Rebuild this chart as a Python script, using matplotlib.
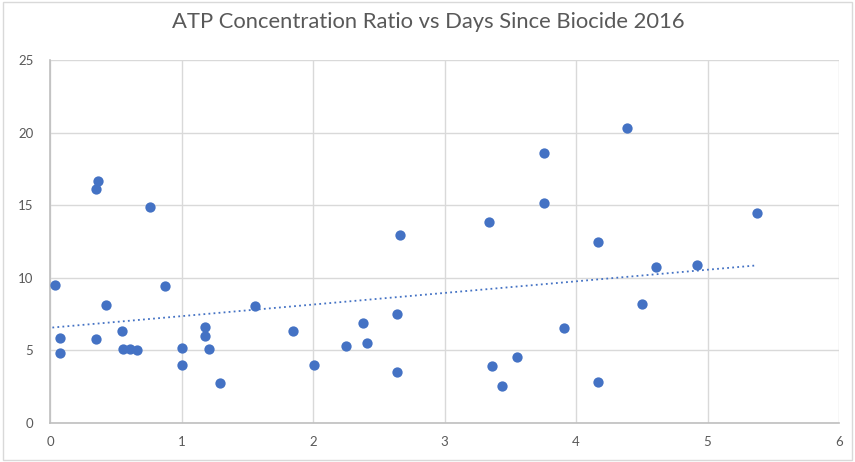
import numpy as np
import matplotlib
matplotlib.use("Agg")
import matplotlib.pyplot as plt
from matplotlib.patches import Rectangle

# days since biocide vs ATP concentration ratio
days = [0.367, 0.347, 0.758, 0.038, 0.076, 0.076, 0.347, 0.426, 0.548,
        0.558, 0.608, 0.659, 0.877, 1.006, 1.006, 1.179, 1.179, 1.207,
        1.289, 1.559, 1.848, 2.010, 2.248, 2.378, 2.408, 2.639, 2.659,
        2.639, 3.336, 3.359, 3.549, 3.440, 3.909, 4.388, 3.759, 3.759,
        5.379, 4.167, 4.608, 4.920, 4.500, 4.167]
ratio = [16.64, 16.09, 14.90, 9.47, 5.88, 4.85, 5.77, 8.16, 6.32,
         5.08, 5.08, 5.03, 9.43, 5.15, 3.98, 6.64, 6.00, 5.10,
         2.76, 8.07, 6.34, 4.00, 5.31, 6.92, 5.54, 7.54, 12.92,
         3.54, 13.84, 3.95, 4.55, 2.55, 6.57, 20.34, 18.57, 15.12,
         14.46, 12.44, 10.74, 10.85, 8.23, 2.85]

xticks = [0, 1, 2, 3, 4, 5, 6]
yticks = [0, 5, 10, 15, 20, 25]

BLUE = "#4472C4"
GRAY_TXT = "#595959"

plt.rcParams["font.family"] = ["Lato", "DejaVu Sans"]

fig = plt.figure(figsize=(8.55, 4.62), dpi=100)
ax = fig.add_axes([50 / 855, 1 - 423 / 462, (839 - 50) / 855, (423 - 60) / 462])

ax.scatter(days, ratio, s=55, color=BLUE, zorder=3, linewidths=0)

# linear trendline
x = np.array(days)
slope, icpt = np.polyfit(x, np.array(ratio), 1)
xt = np.array([x.min() - 0.02, x.max()])
ax.plot(xt, slope * xt + icpt, color=BLUE, lw=1.3, ls=(0, (1, 1.8)), zorder=2)

ax.set_xlim(0, 6)
ax.set_ylim(0, 25)
ax.set_xticks(xticks)
ax.set_yticks(yticks)
ax.tick_params(length=0, labelsize=9.5, labelcolor=GRAY_TXT)
ax.tick_params(axis="x", pad=9)
ax.tick_params(axis="y", pad=12)
ax.grid(color="#d9d9d9", lw=1)
ax.set_axisbelow(True)
for s in ["top", "right"]:
    ax.spines[s].set_visible(False)
for s in ["left", "bottom"]:
    ax.spines[s].set_color("#bfbfbf")
    ax.spines[s].set_linewidth(1.2)

fig.text(428 / 855, 1 - 22 / 462, "ATP Concentration Ratio vs Days Since Biocide 2016",
         ha="center", va="center", fontsize=15.8, color=GRAY_TXT)

fig.patches.append(Rectangle((0.004, 0.004), 0.992, 0.992, transform=fig.transFigure,
                             fill=False, edgecolor="#d9d9d9", lw=1))

plt.savefig("out.png", dpi=100)
